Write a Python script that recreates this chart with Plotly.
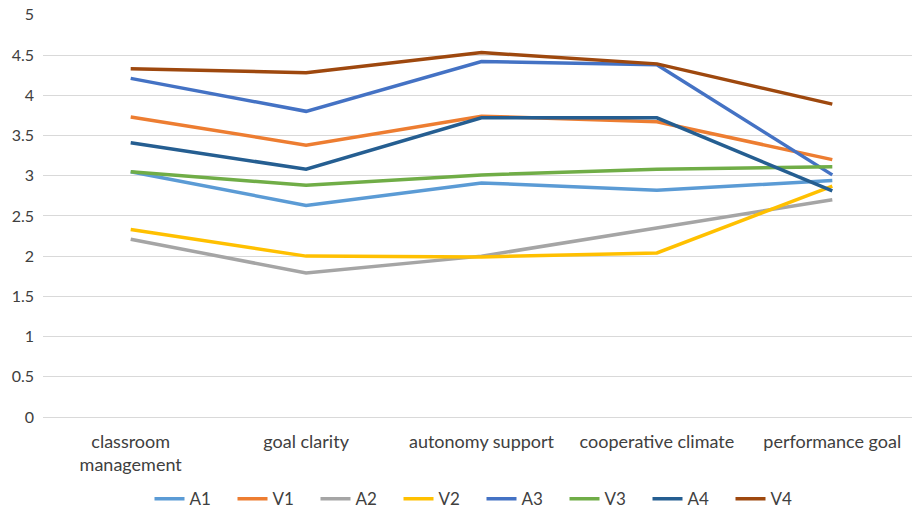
import plotly.graph_objects as go

categories = ["classroom<br>management", "goal clarity", "autonomy support", "cooperative climate", "performance goal"]
A1 = [3.05, 2.63, 2.91, 2.82, 2.94]
V1 = [3.73, 3.38, 3.74, 3.67, 3.20]
A2 = [2.21, 1.79, 2.00, 2.35, 2.70]
V2 = [2.33, 2.00, 1.99, 2.04, 2.87]
A3 = [4.21, 3.80, 4.42, 4.38, 3.01]
V3 = [3.05, 2.88, 3.01, 3.08, 3.11]
A4 = [3.41, 3.08, 3.72, 3.72, 2.81]
V4 = [4.33, 4.28, 4.53, 4.39, 3.89]
y_ticks = [0, 0.5, 1, 1.5, 2, 2.5, 3, 3.5, 4, 4.5, 5]

series = [("A1", A1, "#5B9BD5"), ("V1", V1, "#ED7D31"), ("A2", A2, "#A5A5A5"),
          ("V2", V2, "#FFC000"), ("A3", A3, "#4472C4"), ("V3", V3, "#70AD47"),
          ("A4", A4, "#255E91"), ("V4", V4, "#9E480E")]

fig = go.Figure()
for name, vals, col in series:
    fig.add_trace(go.Scatter(x=categories, y=vals, name=name, mode="lines",
                             line=dict(color=col, width=3.5)))

fig.update_layout(
    width=912, height=509,
    margin=dict(l=35, r=0, t=6, b=100, autoexpand=False),
    paper_bgcolor="white", plot_bgcolor="white",
    font=dict(family="Lato, Liberation Sans, sans-serif", size=17, color="#404040"),
    legend=dict(orientation="h", x=0.5, xanchor="center", y=0.035, yanchor="middle",
                yref="container", font=dict(size=17), itemwidth=30,
                entrywidth=38, entrywidthmode="pixels"),
    showlegend=True,
)
fig.update_yaxes(range=[0, 5.01], tickvals=y_ticks, ticktext=[f"{v:g}" for v in y_ticks],
                 ticklabeloverflow="allow", tickfont=dict(size=16),
                 showgrid=True, gridcolor="#D9D9D9", gridwidth=1,
                 zeroline=False, ticks="", ticklabelstandoff=8, automargin=False)
fig.update_xaxes(range=[-0.5, 4.5], showgrid=False, showline=True, linecolor="#D9D9D9",
                 linewidth=1, ticks="", ticklabelstandoff=8, automargin=False,
                 tickfont=dict(size=18))

fig.write_html("out.html")
